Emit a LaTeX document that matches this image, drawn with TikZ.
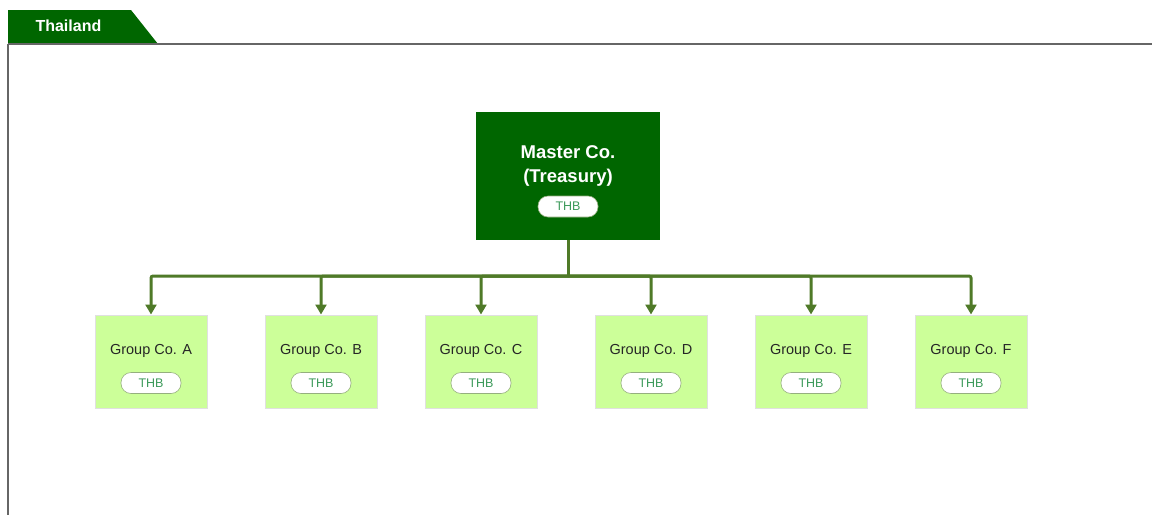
\documentclass[tikz,border=0pt]{standalone}
\usepackage{fontspec}
\setmainfont{Liberation Sans}
\usetikzlibrary{arrows.meta}
\definecolor{dkgreen}{HTML}{006600}
\definecolor{lnk}{HTML}{4F7A28}
\definecolor{lgreen}{HTML}{CCFF99}
\definecolor{pilltxt}{HTML}{3C9A5A}
\tikzset{
  master/.style={fill=dkgreen,draw=none,minimum width=184pt,minimum height=128pt,inner sep=0pt},
  group/.style={fill=lgreen,draw=black!12,line width=1pt,minimum width=112pt,minimum height=93pt,inner sep=0pt},
  pill/.style={fill=white,draw=lnk!60,line width=0.6pt,rounded corners=10pt,minimum width=60pt,minimum height=21pt,inner sep=0pt,font=\fontsize{12.5}{14}\selectfont,text=pilltxt},
  gtext/.style={font=\fontsize{14.5}{16}\selectfont,text=black!85},
  conn/.style={draw=lnk,line width=3pt,rounded corners=2pt},
  arr/.style={conn,-{Triangle[length=10pt,width=11pt]}},
}
\begin{document}
\begin{tikzpicture}[x=1pt,y=-1pt]
\useasboundingbox (0,0) rectangle (1152,515);
% tab and frame
\fill[dkgreen] (8,10) -- (131,10) -- (158,44) -- (8,44) -- cycle;
\node[text=white,font=\bfseries\fontsize{16}{18}\selectfont,anchor=west] (tab) at (32,26) {Thailand};
\draw[black!60,line width=1.2pt] (8,44) -- (1152,44);
\draw[black!60,line width=2pt] (8,44) -- (8,515);
% master
\node[master] (m) at (568,176) {};
\node[text=white,font=\bfseries\fontsize{18.5}{24}\selectfont,align=center] (mt) at (568,166) {Master Co.\\(Treasury)};
\node[pill] (mp) at (568,206.5) {THB};
% groups
\coordinate (j) at (568,276);
\foreach \n/\x in {A/151,B/321,C/481,D/651,E/811,F/971}{
  \node[group] (g\n) at (\x,361.5) {};
  \node[gtext] (t\n) at (\x,351) {Group Co. \n};
  \node[pill] (p\n) at (\x,383) {THB};
}
\draw[conn] (m.south) -- (j);
\draw[arr] (j) -| (gA.north);
\draw[arr] (j) -| (gB.north);
\draw[arr] (j) -| (gC.north);
\draw[arr] (j) -| (gD.north);
\draw[arr] (j) -| (gE.north);
\draw[arr] (j) -| (gF.north);
\end{tikzpicture}
\end{document}
